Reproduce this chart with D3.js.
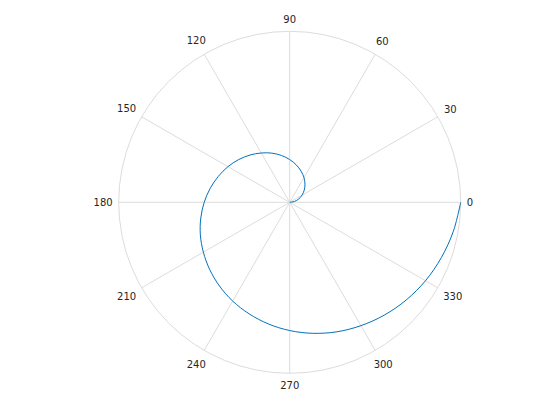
<!DOCTYPE html>
<html>
<head>
<meta charset="utf-8">
<script src="https://cdn.jsdelivr.net/npm/d3@7"></script>
<style>
  body { margin: 0; background: #fff; }
  text { font-family: "DejaVu Sans", sans-serif; font-size: 10px; fill: #262626; }
</style>
</head>
<body>
<div id="chart"></div>
<script>
// spiral samples (angle in degrees, radius 0..1)
const thetaDeg = [0, 10, 20, 30, 40, 50, 60, 70, 80, 90, 100, 110, 120, 130, 140, 150, 160, 170, 180,
    190, 200, 210, 220, 230, 240, 250, 260, 270, 280, 290, 300, 310, 320, 330, 340, 350, 360];
const radius = [0, 0.028, 0.056, 0.083, 0.111, 0.139, 0.167, 0.194, 0.222, 0.25, 0.278, 0.306, 0.333,
    0.361, 0.389, 0.417, 0.444, 0.472, 0.5, 0.528, 0.556, 0.583, 0.611, 0.639, 0.667, 0.694, 0.722,
    0.75, 0.778, 0.806, 0.833, 0.861, 0.889, 0.917, 0.944, 0.972, 1.0];
const angleTicks = [0, 30, 60, 90, 120, 150, 180, 210, 240, 270, 300, 330];

const width = 560, height = 420;
const cx = 289.7, cy = 202.3, R = 171;

const svg = d3.select("#chart")
    .append("svg")
    .attr("width", width)
    .attr("height", height);

const g = svg.append("g").attr("transform", `translate(${cx},${cy})`);

const r = d3.scaleLinear().domain([0, 1]).range([0, R]);
// d3 radial angle: 0 at top, clockwise; polar: 0 at right, counterclockwise
const toRad = deg => (90 - deg) * Math.PI / 180;

// grid
g.append("circle")
    .attr("r", r(1))
    .attr("fill", "none")
    .attr("stroke", "#dcdcdc")
    .attr("stroke-width", 1);

g.selectAll(".spoke")
    .data(angleTicks)
    .enter()
    .append("line")
    .attr("class", "spoke")
    .attr("x1", 0).attr("y1", 0)
    .attr("x2", d => r(1) * Math.cos(d * Math.PI / 180))
    .attr("y2", d => -r(1) * Math.sin(d * Math.PI / 180))
    .attr("stroke", "#dcdcdc")
    .attr("stroke-width", 1);

// angle labels
function labelOffset(el, d) {
    const a = d * Math.PI / 180;
    const w = el.getComputedTextLength();
    return r(1) + 6 + 0.5 * w * Math.abs(Math.cos(a)) + 6 * Math.abs(Math.sin(a));
}

g.selectAll(".lbl")
    .data(angleTicks)
    .enter()
    .append("text")
    .attr("class", "lbl")
    .attr("text-anchor", "middle")
    .attr("dominant-baseline", "central")
    .text(d => d)
    .attr("x", function(d) { return labelOffset(this, d) * Math.cos(d * Math.PI / 180); })
    .attr("y", function(d) { return -labelOffset(this, d) * Math.sin(d * Math.PI / 180); });

// spiral
const pts = thetaDeg.map((t, i) => [toRad(t), radius[i]]);
g.append("path")
    .datum(pts)
    .attr("fill", "none")
    .attr("stroke", "#0072BD")
    .attr("stroke-width", 1)
    .attr("d", d3.lineRadial()
        .angle(d => d[0])
        .radius(d => r(d[1]))
        .curve(d3.curveCatmullRom));
</script>
</body>
</html>
